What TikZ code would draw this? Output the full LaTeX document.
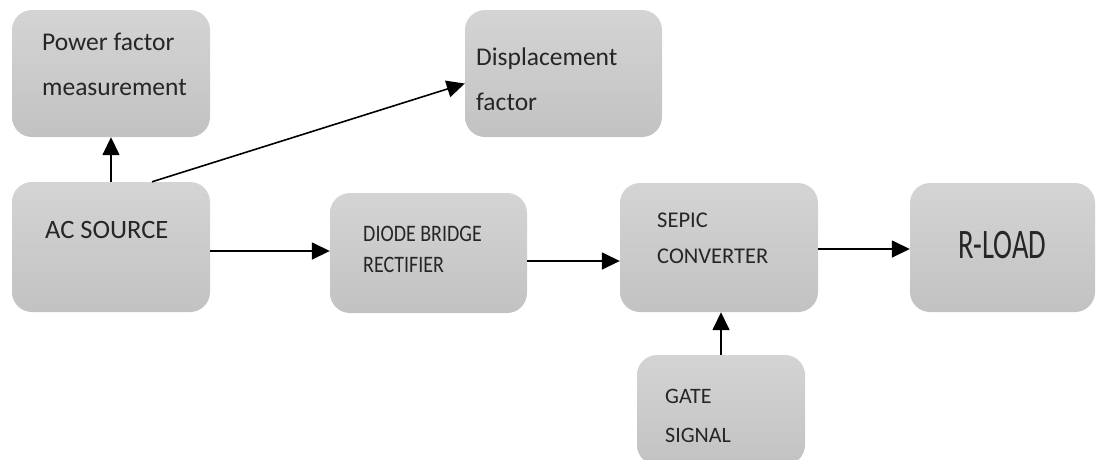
\documentclass[tikz,border=0pt]{standalone}
\usepackage{fontspec}
\setmainfont{Carlito}
\usetikzlibrary{arrows,arrows.meta,positioning}
\definecolor{boxtop}{HTML}{D4D4D4}
\definecolor{boxbot}{HTML}{C2C2C2}
\newcommand{\Tall}[1]{\scalebox{1}[1.18]{#1}}
\tikzset{blk/.style={rounded corners=20pt,top color=boxtop,bottom color=boxbot,draw=none,inner sep=0pt}}
\tikzset{lbl/.style={anchor=base west,align=left,inner sep=0pt,text=black!85}}
\tikzset{arr/.style={-{Triangle[length=18pt,width=17pt]},line width=1.6pt}}

\begin{document}
\begin{tikzpicture}[x=1pt,y=-1pt]
\useasboundingbox (0,0) rectangle (1100,459);
% blocks
\node (pf) [blk,minimum width=198pt,minimum height=127pt] at (111,73.5) {};
\node (disp) [blk,minimum width=197pt,minimum height=127pt] at (563.5,73.5) {};
\node (ac) [blk,minimum width=198pt,minimum height=130pt] at (111,247) {};
\node (dbr) [blk,minimum width=197pt,minimum height=120pt] at (428.5,253) {};
\node (sepic) [blk,minimum width=198pt,minimum height=129pt] at (719,247.5) {};
\node (rload) [blk,minimum width=185pt,minimum height=129pt] at (1002.5,247.5) {};
\node (gate) [blk,minimum width=168pt,minimum height=110pt] at (721,410) {};
% texts (base = last line)
\node (pf-t) [lbl,font=\fontsize{25.5}{45}\selectfont] at (42,95) {Power factor\\measurement};
\node (disp-t) [lbl,font=\fontsize{25.5}{45}\selectfont] at (476,110) {Displacement\\factor};
\node (ac-t) [lbl,font=\fontsize{26.5}{30}\selectfont] at (45,238) {AC SOURCE};
\node (dbr-t) [lbl,font=\fontsize{20}{31}\selectfont] at (363,272) {\Tall{DIODE BRIDGE}\\\Tall{RECTIFIER}};
\node (sepic-t) [lbl,font=\fontsize{22.5}{36}\selectfont] at (657,263) {SEPIC\\CONVERTER};
\node (rload-t) [lbl,font=\fontsize{42}{46}\selectfont] at (958,258) {\scalebox{0.68}[1]{R-LOAD}};
\node (gate-t) [lbl,font=\fontsize{22}{39}\selectfont] at (665,442) {GATE\\SIGNAL};
% connectors
\path[arr] (ac) edge (pf);
\path[arr] ([xshift=41pt]ac.north) edge ([yshift=-10pt]disp.west);
\path[arr] ([yshift=-4pt]ac.east) edge ([yshift=2pt]dbr.west);
\path[arr] ([yshift=-8pt]dbr.east) edge ([yshift=-13.5pt]sepic.west);
\path[arr] ([yshift=-1.5pt]sepic.east) edge ([yshift=-1.5pt]rload.west);
\path[arr] (gate.north) edge (gate.north |- sepic.south);
\end{tikzpicture}
\end{document}
